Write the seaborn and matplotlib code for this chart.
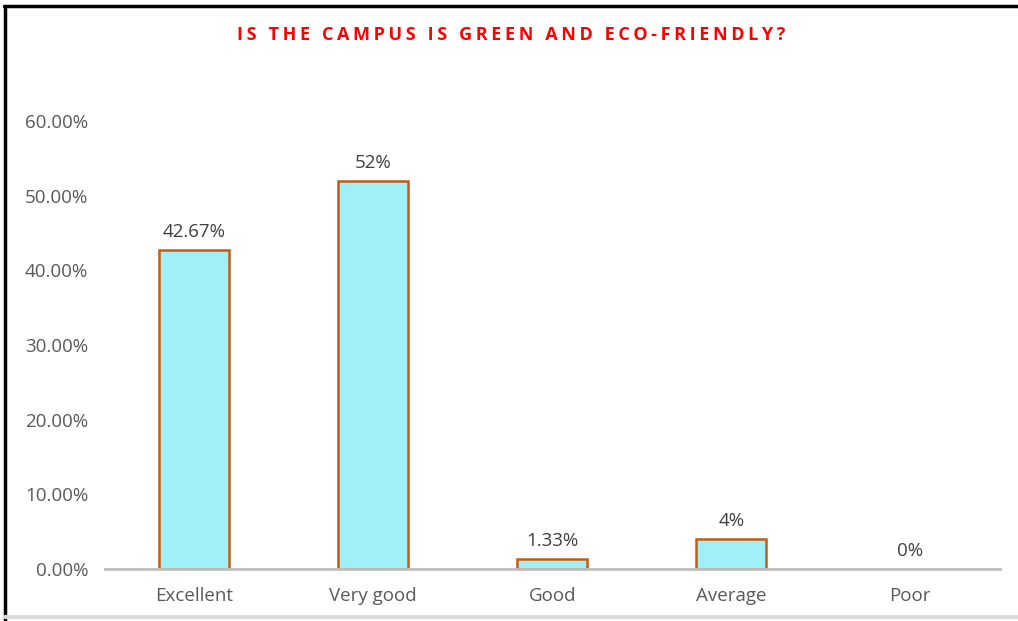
import pandas as pd
import seaborn as sns
import matplotlib.pyplot as plt
from matplotlib.lines import Line2D
from matplotlib.ticker import FuncFormatter


# data
categories = ['Excellent', 'Very good', 'Good', 'Average', 'Poor']
shares = [0.4267, 0.52, 0.0133, 0.04, 0.0]
bar_labels = ['42.67%', '52%', '1.33%', '4%', '0%']
title = 'IS THE CAMPUS IS GREEN AND ECO-FRIENDLY?'

df = pd.DataFrame({'rating': categories, 'share': shares})

sns.set_style("white")
plt.rcParams['font.family'] = ['Open Sans', 'DejaVu Sans']

fig = plt.figure(figsize=(10.18, 6.21), dpi=100)
ax = fig.add_axes([0.103, 0.084, 0.879, 0.721])

sns.barplot(data=df, x='rating', y='share', order=categories, width=0.39,
            color='#A0F0F8', edgecolor='#C55A11', linewidth=1.8,
            saturation=1, ax=ax)

# zero-height bar shows no outline in the original
for patch in ax.patches:
    if patch.get_height() == 0:
        patch.set_visible(False)

for i, txt in enumerate(bar_labels):
    ax.text(i, shares[i] + 0.012, txt, ha='center', va='bottom',
            fontsize=13.5, color='#404040')

ax.set_xlim(-0.5, 4.5)
ax.set_ylim(0, 0.6)
ax.set_yticks([0, 0.1, 0.2, 0.3, 0.4, 0.5, 0.6])
ax.yaxis.set_major_formatter(FuncFormatter(lambda v, p: f'{v * 100:.2f}%'))
ax.tick_params(axis='both', length=0, labelsize=13.5, labelcolor='#595959')
ax.tick_params(axis='x', pad=13)
ax.tick_params(axis='y', pad=12)
ax.set_xlabel('')
ax.set_ylabel('')

for side in ['top', 'right', 'left']:
    ax.spines[side].set_visible(False)
ax.spines['bottom'].set_color('#BFBFBF')
ax.spines['bottom'].set_linewidth(2)

# letter-spaced title
spaced = '\u2009'.join(title)
fig.text(0.502, 0.943, spaced, ha='center', va='center', fontsize=13,
         fontweight='bold', color='#FF0000')

# outer frame
fig.add_artist(Line2D([0.004, 1.0], [0.991, 0.991], color='black', lw=2.5))
fig.add_artist(Line2D([0.005, 0.005], [0.0, 0.991], color='black', lw=2.5))
fig.add_artist(Line2D([0.005, 1.0], [0.006, 0.006], color='#D9D9D9', lw=3))

fig.savefig('out.png', dpi=100)
plt.close()
